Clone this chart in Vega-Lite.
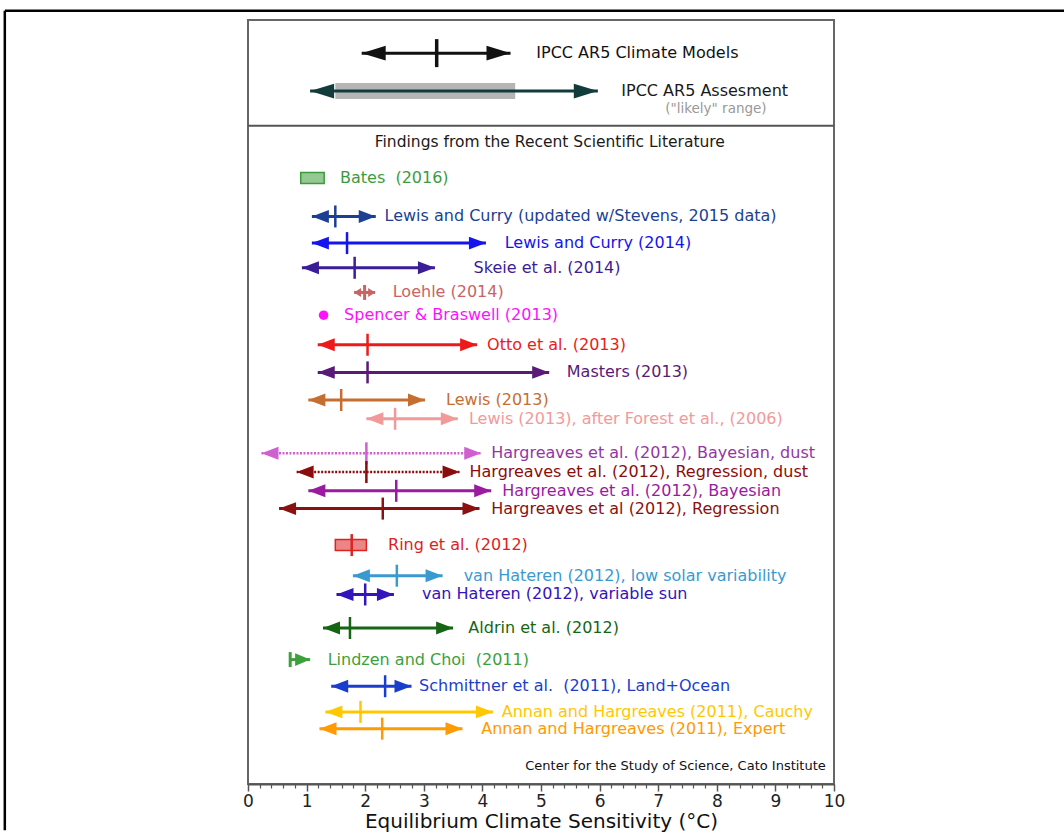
{
  "$schema": "https://vega.github.io/schema/vega-lite/v6.json",
  "usermeta": {"embedOptions": {"actions": false}},
  "width": 586,
  "height": 764,
  "autosize": {"type": "none"},
  "padding": {"left": 248, "top": 20, "right": 230, "bottom": 51},
  "background": "white",
  "config": {
    "view": {"stroke": "#666666", "strokeWidth": 2},
    "legend": {"disable": true},
    "axis": {"grid": false},
    "font": "DejaVu Sans"
  },
  "datasets": {
    "studies": [
      {"study": "IPCC AR5 Climate Models", "kind": "range", "lo": 1.94, "med": 3.22, "hi": 4.48, "pos": 2.85, "labelx": 4.92, "dust": false},
      {"study": "IPCC AR5 Assesment", "kind": "range", "lo": 1.06, "hi": 5.97, "likelyLo": 1.49, "likelyHi": 4.56, "pos": 6.7, "labelx": 6.37, "dust": false},
      {"study": "Bates \u00a0(2016)", "kind": "box", "lo": 0.9, "hi": 1.3, "pos": 15.5, "labelx": 1.57, "dust": false},
      {"study": "Lewis and Curry (updated w/Stevens, 2015 data)", "kind": "range", "lo": 1.09, "med": 1.49, "hi": 2.18, "pos": 19.4, "labelx": 2.33, "dust": false},
      {"study": "Lewis and Curry (2014)", "kind": "range", "lo": 1.09, "med": 1.69, "hi": 4.06, "pos": 22.1, "labelx": 4.38, "dust": false},
      {"study": "Skeie et al. (2014)", "kind": "range", "lo": 0.92, "med": 1.82, "hi": 3.19, "pos": 24.6, "labelx": 3.85, "dust": false},
      {"study": "Loehle (2014)", "kind": "range", "lo": 1.81, "med": 1.99, "hi": 2.17, "pos": 27.1, "labelx": 2.47, "dust": false},
      {"study": "Spencer & Braswell (2013)", "kind": "point", "med": 1.29, "pos": 29.4, "labelx": 1.64, "dust": false},
      {"study": "Otto et al. (2013)", "kind": "range", "lo": 1.19, "med": 2.04, "hi": 3.91, "pos": 32.4, "labelx": 4.08, "dust": false},
      {"study": "Masters (2013)", "kind": "range", "lo": 1.19, "med": 2.04, "hi": 5.14, "pos": 35.2, "labelx": 5.44, "dust": false},
      {"study": "Lewis (2013)", "kind": "range", "lo": 1.03, "med": 1.59, "hi": 3.02, "pos": 38.0, "labelx": 3.38, "dust": false},
      {"study": "Lewis (2013), after Forest et al., (2006)", "kind": "range", "lo": 2.02, "med": 2.51, "hi": 3.58, "pos": 39.9, "labelx": 3.77, "dust": false},
      {"study": "Hargreaves et al. (2012), Bayesian, dust", "kind": "range", "lo": 0.23, "med": 2.02, "hi": 3.98, "pos": 43.4, "labelx": 4.15, "dust": true},
      {"study": "Hargreaves et al. (2012), Regression, dust", "kind": "range", "lo": 0.83, "med": 2.02, "hi": 3.61, "pos": 45.3, "labelx": 3.78, "dust": true},
      {"study": "Hargreaves et al. (2012), Bayesian", "kind": "range", "lo": 1.03, "med": 2.53, "hi": 4.15, "pos": 47.2, "labelx": 4.34, "dust": false},
      {"study": "Hargreaves et al (2012), Regression", "kind": "range", "lo": 0.53, "med": 2.3, "hi": 3.95, "pos": 49.0, "labelx": 4.15, "dust": false},
      {"study": "Ring et al. (2012)", "kind": "box", "lo": 1.49, "med": 1.77, "hi": 2.02, "pos": 52.7, "labelx": 2.39, "dust": false},
      {"study": "van Hateren (2012), low solar variability", "kind": "range", "lo": 1.79, "med": 2.54, "hi": 3.32, "pos": 55.8, "labelx": 3.68, "dust": false},
      {"study": "van Hateren (2012), variable sun", "kind": "range", "lo": 1.51, "med": 2.0, "hi": 2.49, "pos": 57.7, "labelx": 2.97, "dust": false},
      {"study": "Aldrin et al. (2012)", "kind": "range", "lo": 1.28, "med": 1.74, "hi": 3.5, "pos": 61.1, "labelx": 3.76, "dust": false},
      {"study": "Lindzen and Choi \u00a0(2011)", "kind": "range-right", "lo": 0.72, "med": 0.72, "hi": 1.06, "pos": 64.3, "labelx": 1.36, "dust": false},
      {"study": "Schmittner et al. \u00a0(2011), Land+Ocean", "kind": "range", "lo": 1.42, "med": 2.34, "hi": 2.79, "pos": 67.0, "labelx": 2.92, "dust": false},
      {"study": "Annan and Hargreaves (2011), Cauchy", "kind": "range", "lo": 1.32, "med": 1.92, "hi": 4.18, "pos": 69.6, "labelx": 4.33, "dust": false},
      {"study": "Annan and Hargreaves (2011), Expert", "kind": "range", "lo": 1.22, "med": 2.29, "hi": 3.66, "pos": 71.3, "labelx": 3.98, "dust": false}
    ],
    "notes": [
      {"note": "Findings from the Recent Scientific Literature", "x": 5.15, "pos": 11.9, "role": "heading"},
      {"note": "(\"likely\" range)", "x": 7.12, "pos": 8.5, "role": "sub"},
      {"note": "Center for the Study of Science, Cato Institute", "x": 9.86, "pos": 75.1, "role": "credit"}
    ]
  },
  "data": {"name": "studies"},
  "resolve": {"axis": {"x": "independent"}},
  "layer": [
    {
      "transform": [{"filter": "isValid(datum.likelyLo)"}],
      "mark": {"type": "bar", "size": 16, "color": "#b5b5b5"},
      "encoding": {
        "x": {"field": "likelyLo", "type": "quantitative", "scale": {"domain": [0, 10], "nice": false, "zero": false}, "axis": null},
        "x2": {"field": "likelyHi"},
        "y": {"field": "pos", "type": "quantitative", "scale": {"domain": [0, 76.4], "reverse": true, "nice": false, "zero": false}, "axis": null}
      }
    },
    {
      "transform": [{"filter": "(datum.kind === 'range' || datum.kind === 'range-right') && !datum.dust"}],
      "mark": {"type": "rule", "strokeWidth": 3},
      "encoding": {
        "x": {"field": "lo", "type": "quantitative",
          "axis": {"orient": "bottom", "values": [0, 1, 2, 3, 4, 5, 6, 7, 8, 9, 10], "grid": false, "tickSize": 7, "tickWidth": 1.5, "tickColor": "#555555", "domainColor": "#555555", "domainWidth": 2, "labelFontSize": 17, "labelColor": "#222222", "labelPadding": 2, "labelFlush": false, "title": "Equilibrium Climate Sensitivity (°C)", "titleFontSize": 20, "titleFontWeight": "normal", "titleColor": "#111111", "titlePadding": 2}},
        "x2": {"field": "hi"},
        "y": {"field": "pos", "type": "quantitative", "axis": null},
        "color": {"field": "study", "type": "nominal", "legend": null,
          "scale": {
            "domain": ["IPCC AR5 Climate Models", "IPCC AR5 Assesment", "Bates \u00a0(2016)", "Lewis and Curry (updated w/Stevens, 2015 data)", "Lewis and Curry (2014)", "Skeie et al. (2014)", "Loehle (2014)", "Spencer & Braswell (2013)", "Otto et al. (2013)", "Masters (2013)", "Lewis (2013)", "Lewis (2013), after Forest et al., (2006)", "Hargreaves et al. (2012), Bayesian, dust", "Hargreaves et al. (2012), Regression, dust", "Hargreaves et al. (2012), Bayesian", "Hargreaves et al (2012), Regression", "Ring et al. (2012)", "van Hateren (2012), low solar variability", "van Hateren (2012), variable sun", "Aldrin et al. (2012)", "Lindzen and Choi \u00a0(2011)", "Schmittner et al. \u00a0(2011), Land+Ocean", "Annan and Hargreaves (2011), Cauchy", "Annan and Hargreaves (2011), Expert"],
            "range": ["#111111", "#123c3c", "#3c9c3c", "#1c3f94", "#1414ee", "#3b1d96", "#c86464", "#ff10ff", "#ee1a1a", "#5a1a78", "#c66e30", "#f29a9a", "#d060d0", "#8b0c0c", "#9a1aa0", "#8b1010", "#dd2222", "#3a9ad0", "#3414bb", "#146614", "#3ca03c", "#1a3ecc", "#ffc800", "#ff9a00"]
          }}
      }
    },
    {
      "transform": [{"filter": "datum.dust"}],
      "mark": {"type": "rule", "strokeWidth": 2.5, "strokeDash": [2, 1.5]},
      "encoding": {
        "x": {"field": "lo", "type": "quantitative", "axis": null},
        "x2": {"field": "hi"},
        "y": {"field": "pos", "type": "quantitative", "axis": null},
        "color": {"field": "study", "type": "nominal", "legend": null}
      }
    },
    {
      "transform": [{"filter": "datum.kind === 'range' && indexof(datum.study, 'IPCC') !== 0 && datum.study !== 'Loehle (2014)'"}],
      "mark": {"type": "point", "shape": "M0,0L2,-0.76L2,0.76Z", "size": 289, "filled": true, "opacity": 1, "strokeWidth": 0},
      "encoding": {
        "x": {"field": "lo", "type": "quantitative", "axis": null},
        "y": {"field": "pos", "type": "quantitative", "axis": null},
        "color": {"field": "study", "type": "nominal", "legend": null}
      }
    },
    {
      "transform": [{"filter": "datum.kind === 'range' && indexof(datum.study, 'IPCC') !== 0 && datum.study !== 'Loehle (2014)'"}],
      "mark": {"type": "point", "shape": "M0,0L-2,-0.76L-2,0.76Z", "size": 289, "filled": true, "opacity": 1, "strokeWidth": 0},
      "encoding": {
        "x": {"field": "hi", "type": "quantitative", "axis": null},
        "y": {"field": "pos", "type": "quantitative", "axis": null},
        "color": {"field": "study", "type": "nominal", "legend": null}
      }
    },
    {
      "transform": [{"filter": "indexof(datum.study, 'IPCC') === 0"}],
      "mark": {"type": "point", "shape": "M0,0L2,-0.62L2,0.62Z", "size": 576, "filled": true, "opacity": 1, "strokeWidth": 0},
      "encoding": {
        "x": {"field": "lo", "type": "quantitative", "axis": null},
        "y": {"field": "pos", "type": "quantitative", "axis": null},
        "color": {"field": "study", "type": "nominal", "legend": null}
      }
    },
    {
      "transform": [{"filter": "indexof(datum.study, 'IPCC') === 0"}],
      "mark": {"type": "point", "shape": "M0,0L-2,-0.62L-2,0.62Z", "size": 576, "filled": true, "opacity": 1, "strokeWidth": 0},
      "encoding": {
        "x": {"field": "hi", "type": "quantitative", "axis": null},
        "y": {"field": "pos", "type": "quantitative", "axis": null},
        "color": {"field": "study", "type": "nominal", "legend": null}
      }
    },
    {
      "transform": [{"filter": "datum.study === 'Loehle (2014)'"}],
      "mark": {"type": "point", "shape": "M0,0L2,-1.29L2,1.29Z", "size": 49, "filled": true, "opacity": 1, "strokeWidth": 0},
      "encoding": {
        "x": {"field": "lo", "type": "quantitative", "axis": null},
        "y": {"field": "pos", "type": "quantitative", "axis": null},
        "color": {"field": "study", "type": "nominal", "legend": null}
      }
    },
    {
      "transform": [{"filter": "datum.study === 'Loehle (2014)'"}],
      "mark": {"type": "point", "shape": "M0,0L-2,-1.29L-2,1.29Z", "size": 49, "filled": true, "opacity": 1, "strokeWidth": 0},
      "encoding": {
        "x": {"field": "hi", "type": "quantitative", "axis": null},
        "y": {"field": "pos", "type": "quantitative", "axis": null},
        "color": {"field": "study", "type": "nominal", "legend": null}
      }
    },
    {
      "transform": [{"filter": "datum.kind === 'range-right'"}],
      "mark": {"type": "point", "shape": "M0,0L-2,-0.85L-2,0.85Z", "size": 225, "filled": true, "opacity": 1, "strokeWidth": 0},
      "encoding": {
        "x": {"field": "hi", "type": "quantitative", "axis": null},
        "y": {"field": "pos", "type": "quantitative", "axis": null},
        "color": {"field": "study", "type": "nominal", "legend": null}
      }
    },
    {
      "transform": [{"filter": "isValid(datum.med) && datum.kind !== 'point' && indexof(datum.study, 'IPCC') !== 0 && datum.study !== 'Loehle (2014)' && datum.kind !== 'range-right'"}],
      "mark": {"type": "tick", "orient": "vertical", "size": 22, "thickness": 2.5, "opacity": 1},
      "encoding": {
        "x": {"field": "med", "type": "quantitative",
          "axis": {"orient": "bottom", "values": [0.2, 0.4, 0.6, 0.8, 1.2, 1.4, 1.6, 1.8, 2.2, 2.4, 2.6, 2.8, 3.2, 3.4, 3.6, 3.8, 4.2, 4.4, 4.6, 4.8, 5.2, 5.4, 5.6, 5.8, 6.2, 6.4, 6.6, 6.8, 7.2, 7.4, 7.6, 7.8, 8.2, 8.4, 8.6, 8.8, 9.2, 9.4, 9.6, 9.8], "grid": false, "domain": false, "labels": false, "tickSize": 4, "tickWidth": 1.2, "tickColor": "#555555", "title": null}},
        "y": {"field": "pos", "type": "quantitative", "axis": null},
        "color": {"field": "study", "type": "nominal", "legend": null}
      }
    },
    {
      "transform": [{"filter": "indexof(datum.study, 'IPCC') === 0 && isValid(datum.med)"}],
      "mark": {"type": "tick", "orient": "vertical", "size": 28, "thickness": 3.5, "opacity": 1},
      "encoding": {
        "x": {"field": "med", "type": "quantitative", "axis": null},
        "y": {"field": "pos", "type": "quantitative", "axis": null},
        "color": {"field": "study", "type": "nominal", "legend": null}
      }
    },
    {
      "transform": [{"filter": "datum.study === 'Loehle (2014)' || datum.kind === 'range-right'"}],
      "mark": {"type": "tick", "orient": "vertical", "size": 15, "thickness": 3, "opacity": 1},
      "encoding": {
        "x": {"field": "med", "type": "quantitative", "axis": null},
        "y": {"field": "pos", "type": "quantitative", "axis": null},
        "color": {"field": "study", "type": "nominal", "legend": null}
      }
    },
    {
      "transform": [{"filter": "datum.kind === 'box'"}],
      "mark": {"type": "bar", "size": 11, "fillOpacity": 0.55},
      "encoding": {
        "x": {"field": "lo", "type": "quantitative", "axis": null},
        "x2": {"field": "hi"},
        "y": {"field": "pos", "type": "quantitative", "axis": null},
        "color": {"field": "study", "type": "nominal", "legend": null}
      }
    },
    {
      "transform": [{"filter": "datum.kind === 'box'"}],
      "mark": {"type": "bar", "size": 11, "filled": false, "strokeWidth": 1.5},
      "encoding": {
        "x": {"field": "lo", "type": "quantitative", "axis": null},
        "x2": {"field": "hi"},
        "y": {"field": "pos", "type": "quantitative", "axis": null},
        "color": {"field": "study", "type": "nominal", "legend": null}
      }
    },
    {
      "transform": [{"filter": "datum.kind === 'point'"}],
      "mark": {"type": "point", "shape": "circle", "size": 90, "filled": true, "opacity": 1},
      "encoding": {
        "x": {"field": "med", "type": "quantitative", "axis": null},
        "y": {"field": "pos", "type": "quantitative", "axis": null},
        "color": {"field": "study", "type": "nominal", "legend": null}
      }
    },
    {
      "mark": {"type": "text", "align": "left", "baseline": "middle", "fontSize": 16, "font": "DejaVu Sans"},
      "encoding": {
        "x": {"field": "labelx", "type": "quantitative", "axis": null},
        "y": {"field": "pos", "type": "quantitative", "axis": null},
        "text": {"field": "study"},
        "color": {"field": "study", "type": "nominal", "legend": null,
          "condition": [
            {"test": "datum.study === 'IPCC AR5 Assesment'", "value": "#1a1a1a"},
            {"test": "datum.study === 'Hargreaves et al. (2012), Bayesian, dust'", "value": "#9535a5"}
          ]}
      }
    },
    {
      "data": {"values": [{}]},
      "mark": {"type": "rule", "color": "#555555", "strokeWidth": 2},
      "encoding": {
        "y": {"datum": 10.2, "type": "quantitative", "axis": null}
      }
    },
    {
      "data": {"name": "notes"},
      "transform": [{"filter": "datum.role === 'heading'"}],
      "mark": {"type": "text", "align": "center", "baseline": "middle", "fontSize": 15.5, "color": "#1a1a1a"},
      "encoding": {
        "x": {"field": "x", "type": "quantitative", "axis": null},
        "y": {"field": "pos", "type": "quantitative", "axis": null},
        "text": {"field": "note"}
      }
    },
    {
      "data": {"name": "notes"},
      "transform": [{"filter": "datum.role === 'sub'"}],
      "mark": {"type": "text", "align": "left", "baseline": "middle", "fontSize": 13.5, "color": "#999999"},
      "encoding": {
        "x": {"field": "x", "type": "quantitative", "axis": null},
        "y": {"field": "pos", "type": "quantitative", "axis": null},
        "text": {"field": "note"}
      }
    },
    {
      "data": {"name": "notes"},
      "transform": [{"filter": "datum.role === 'credit'"}],
      "mark": {"type": "text", "align": "right", "baseline": "middle", "fontSize": 13, "color": "#111111"},
      "encoding": {
        "x": {"field": "x", "type": "quantitative", "axis": null},
        "y": {"field": "pos", "type": "quantitative", "axis": null},
        "text": {"field": "note"}
      }
    },
    {
      "data": {"values": [{}]},
      "mark": {"type": "rule", "color": "#000000", "strokeWidth": 2.5},
      "encoding": {
        "x": {"datum": -4.15, "type": "quantitative", "axis": null},
        "x2": {"datum": 13.95},
        "y": {"datum": -1.45, "type": "quantitative", "axis": null},
        "y2": {"datum": -1.45}
      }
    },
    {
      "data": {"values": [{}]},
      "mark": {"type": "rule", "color": "#000000", "strokeWidth": 2.5},
      "encoding": {
        "x": {"datum": -4.15, "type": "quantitative", "axis": null},
        "x2": {"datum": -4.15},
        "y": {"datum": -1.45, "type": "quantitative", "axis": null},
        "y2": {"datum": 81.6}
      }
    }
  ]
}
